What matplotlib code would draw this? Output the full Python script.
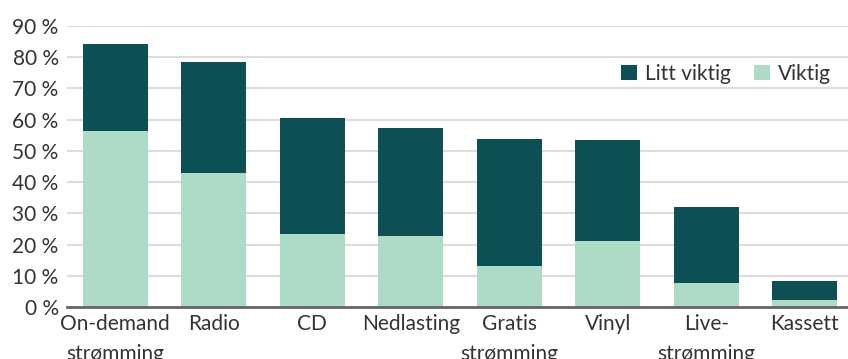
import numpy as np
import matplotlib.pyplot as plt

plt.rcParams['font.family'] = ['Lato', 'DejaVu Sans']

kategorier = ['On-demand\nstrømming', 'Radio', 'CD', 'Nedlasting', 'Gratis\nstrømming',
              'Vinyl', 'Live-\nstrømming', 'Kassett']
viktig = [56.4, 42.9, 23.4, 22.7, 13.1, 21.2, 7.7, 2.2]
totalt = [84.2, 78.5, 60.5, 57.3, 53.8, 53.5, 32.0, 8.3]
litt_viktig = [t - v for t, v in zip(totalt, viktig)]

mork = '#0c4f54'
lys = '#aedbc8'
tekst = '#333333'

fig = plt.figure(figsize=(8.48, 3.59), dpi=100)
ax = fig.add_axes([67 / 848, 1 - 307 / 359, 1 - 67 / 848, (307 - 26) / 359])

x = np.arange(len(kategorier))
ax.bar(x, viktig, width=0.66, color=lys, label='Viktig', zorder=2)
ax.bar(x, litt_viktig, bottom=viktig, width=0.66, color=mork, label='Litt viktig', zorder=2)

ax.set_xlim(-0.49, 7.44)
ax.set_ylim(0, 90)
ax.set_yticks(range(0, 91, 10))
ax.set_yticklabels([f'{v} %' for v in range(0, 91, 10)])
ax.set_xticks(x)
ax.set_xticklabels(kategorier, linespacing=1.6)

ax.yaxis.grid(True, color='#dcdcdc', linewidth=1.5, zorder=0)
ax.set_axisbelow(True)
for s in ['top', 'right', 'left']:
    ax.spines[s].set_visible(False)
ax.spines['bottom'].set_color('#666666')
ax.spines['bottom'].set_linewidth(2)
ax.spines['bottom'].set_zorder(3)
ax.tick_params(axis='both', length=0, labelsize=15, colors=tekst)
ax.tick_params(axis='x', pad=5)
ax.tick_params(axis='y', pad=6)

h, l = ax.get_legend_handles_labels()
ax.legend(h[::-1], l[::-1], loc='center right', bbox_to_anchor=(0.997, 0.83), ncol=2,
          frameon=False, fontsize=15, handlelength=0.75, handleheight=0.75,
          handletextpad=0.4, columnspacing=1.1, labelcolor=tekst, borderaxespad=0.3)

plt.savefig('out.png', dpi=100)
